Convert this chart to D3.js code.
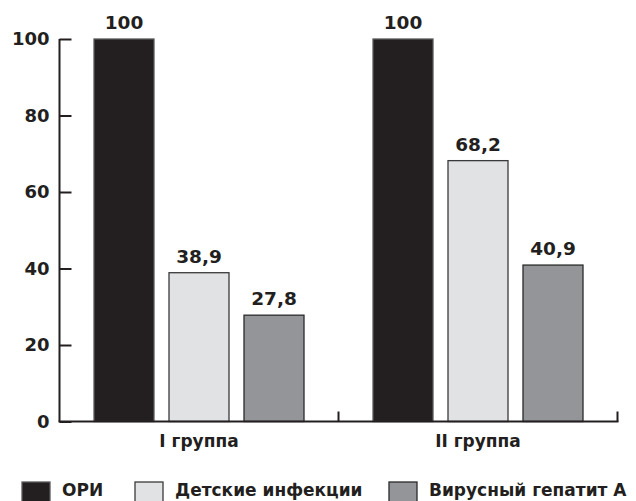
<!DOCTYPE html>
<html>
<head>
<meta charset="utf-8">
<script src="https://cdn.jsdelivr.net/npm/d3@7"></script>
<style>
  body { margin: 0; background: #fff; }
  svg text { font-family: "DejaVu Sans", sans-serif; font-weight: bold; fill: #231f20; }
</style>
</head>
<body>
<svg id="chart" width="636" height="501"></svg>
<script>
(function () {
    'use strict';

    var groups = ["I группа", "II группа"];
    var series = ["ОРИ", "Детские инфекции", "Вирусный гепатит А"];
    var values = [
        [100, 38.9, 27.8],
        [100, 68.2, 40.9]
    ];
    var valueLabels = [
        ["100", "38,9", "27,8"],
        ["100", "68,2", "40,9"]
    ];
    var yTicks = [0, 20, 40, 60, 80, 100];
    var colors = ["#231f20", "#e1e2e4", "#939598"];
    var strokes = ["#5a5a5a", "#3a3a3a", "#2a2a2a"];

    var svg = d3.select('#chart');
    var ink = "#231f20";

    var x0 = d3.scaleBand().domain(groups).range([59.5, 617.5]).padding(0);
    var x1 = d3.scaleBand().domain(d3.range(series.length))
        .range([0, x0.bandwidth()]).paddingInner(0.2).paddingOuter(0.46);
    var y = d3.scaleLinear().domain([0, 100]).range([421.5, 39]);

    // bars
    var g = svg.selectAll('g.grp').data(groups).enter().append('g')
        .attr('class', 'grp')
        .attr('transform', function (d) { return 'translate(' + x0(d) + ',0)'; });

    g.selectAll('rect').data(function (d, i) {
        return values[i].map(function (v, j) { return {v: v, j: j, i: i}; });
    }).enter().append('rect')
        .attr('x', function (d) { return x1(d.j); })
        .attr('y', function (d) { return y(d.v); })
        .attr('width', x1.bandwidth())
        .attr('height', function (d) { return y(0) - y(d.v); })
        .attr('fill', function (d) { return colors[d.j]; })
        .attr('stroke', function (d) { return strokes[d.j]; })
        .attr('stroke-width', 1.3);

    g.selectAll('text.val').data(function (d, i) {
        return values[i].map(function (v, j) { return {v: v, j: j, i: i}; });
    }).enter().append('text')
        .attr('class', 'val')
        .attr('x', function (d) { return x1(d.j) + x1.bandwidth() / 2; })
        .attr('y', function (d) { return y(d.v) - 10; })
        .attr('text-anchor', 'middle')
        .style('font-size', '18.5px')
        .text(function (d) { return valueLabels[d.i][d.j]; });

    // y axis
    var yAxis = d3.axisRight(y).tickValues(yTicks).tickSize(12).tickFormat('');
    var ya = svg.append('g').attr('transform', 'translate(59.5,0)').call(yAxis);
    ya.select('.domain').attr('d', 'M0,' + y(100) + 'V' + y(0));
    ya.selectAll('line, path').attr('stroke', ink).attr('stroke-width', 2);

    svg.selectAll('text.ytick').data(yTicks).enter().append('text')
        .attr('class', 'ytick')
        .attr('x', 49.5)
        .attr('y', function (d) { return y(d); })
        .attr('dy', '0.36em')
        .attr('text-anchor', 'end')
        .style('font-size', '18px')
        .text(function (d) { return d; });

    // x axis, ticks at group boundaries pointing up
    var xa = svg.append('g');
    xa.append('line')
        .attr('x1', x0.range()[0] - 1).attr('x2', x0.range()[1] + 1)
        .attr('y1', y(0)).attr('y2', y(0))
        .attr('stroke', ink).attr('stroke-width', 2.2);
    xa.selectAll('line.xt').data(groups).enter().append('line')
        .attr('class', 'xt')
        .attr('x1', function (d) { return x0(d) + x0.bandwidth(); })
        .attr('x2', function (d) { return x0(d) + x0.bandwidth(); })
        .attr('y1', y(0)).attr('y2', y(0) - 10)
        .attr('stroke', ink).attr('stroke-width', 2);
    xa.selectAll('text').data(groups).enter().append('text')
        .attr('x', function (d) { return x0(d) + x1(1) + x1.bandwidth() / 2; })
        .attr('y', 447)
        .attr('text-anchor', 'middle')
        .style('font-size', '17px')
        .text(function (d) { return d; });

    // legend
    var legX = [22, 135, 389];
    var leg = svg.selectAll('g.leg').data(series).enter().append('g')
        .attr('class', 'leg')
        .attr('transform', function (d, i) { return 'translate(' + legX[i] + ',482)'; });
    leg.append('rect')
        .attr('width', 28).attr('height', 24)
        .attr('fill', function (d, i) { return colors[i]; })
        .attr('stroke', function (d, i) { return strokes[i]; })
        .attr('stroke-width', 1.3);
    leg.append('text')
        .attr('x', 40)
        .attr('y', 14)
        .style('font-size', '17px')
        .text(function (d) { return d; });
}());
</script>
</body>
</html>
